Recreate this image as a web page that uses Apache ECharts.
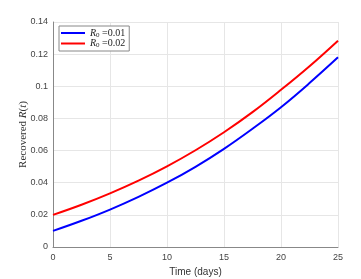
<!DOCTYPE html>
<html><head><meta charset="utf-8">
<script src="https://cdn.jsdelivr.net/npm/echarts@6/dist/echarts.min.js"></script>
<style>html,body{margin:0;padding:0;background:#fff}#c{width:361px;height:279px}</style>
</head><body><div id="c"></div>
<script>
const days = [0, 2.5, 5, 7.5, 10, 12.5, 15, 17.5, 20, 22.5, 25];
const recovered001 = [0.010, 0.0163, 0.0233, 0.0312, 0.0400, 0.0499, 0.0611, 0.0736, 0.0870, 0.1020, 0.1180];
const recovered002 = [0.020, 0.0263, 0.0334, 0.0413, 0.0502, 0.0602, 0.0714, 0.0839, 0.0978, 0.1125, 0.1284];
const seriesNames = ['R0=0.01', 'R0=0.02'];
const legendLabels = {'R0=0.01': '0.01', 'R0=0.02': '0.02'};
const xTicks = [0, 5, 10, 15, 20, 25];
const yTicks = [0, 0.02, 0.04, 0.06, 0.08, 0.1, 0.12, 0.14];

const chart = echarts.init(document.getElementById('c'), null, {renderer: 'canvas'});
const serif = '"Liberation Serif","DejaVu Serif",serif';
const sans = '"Liberation Sans",Arial,sans-serif';
chart.setOption({
  animation: false,
  grid: {left: 53, right: 23, top: 22, bottom: 32, outerBoundsMode: 'none', containLabel: false},
  legend: {
    left: 59, top: 26, orient: 'vertical',
    itemWidth: 24, itemHeight: 2, itemGap: 0,
    padding: [2, 4, 2, 2],
    borderColor: '#888', borderWidth: 1, backgroundColor: '#fff',
    icon: 'rect',
    formatter: n => '{i|R}{s|0}{t| =' + legendLabels[n] + '}',
    textStyle: {
      rich: {
        i: {fontFamily: serif, fontStyle: 'italic', fontSize: 10, color: '#222', lineHeight: 10},
        s: {fontFamily: serif, fontSize: 7, color: '#222', verticalAlign: 'bottom', padding: [4, 0, 0, 0]},
        t: {fontFamily: serif, fontSize: 10, color: '#222'}
      }
    },
    data: seriesNames
  },
  xAxis: {
    type: 'value', min: 0, max: 25, interval: 5,
    name: 'Time (days)', nameLocation: 'middle', nameGap: 20, nameMoveOverlap: false,
    nameTextStyle: {fontFamily: sans, fontSize: 10, color: '#333'},
    axisLine: {show: true, onZero: false, lineStyle: {color: '#888', width: 1}},
    axisTick: {show: false},
    axisLabel: {fontFamily: sans, fontSize: 9, color: '#444', margin: 6},
    splitLine: {show: true, lineStyle: {color: '#e6e6e6', width: 1}}
  },
  yAxis: {
    type: 'value', min: 0, max: 0.14, interval: 0.02,
    name: '{a|Recovered }{b|R}{a|(}{b|t}{a|)}', nameLocation: 'middle', nameGap: 24, nameMoveOverlap: false,
    nameTextStyle: {rich: {
      a: {fontFamily: serif, fontSize: 11, color: '#333'},
      b: {fontFamily: serif, fontStyle: 'italic', fontSize: 11, color: '#333'}
    }},
    axisLine: {show: true, lineStyle: {color: '#888', width: 1}},
    axisTick: {show: false},
    axisLabel: {fontFamily: sans, fontSize: 9, color: '#444', margin: 5,
      formatter: v => String(+v.toFixed(2))},
    splitLine: {show: true, lineStyle: {color: '#e6e6e6', width: 1}}
  },
  series: [
    {name: seriesNames[0], type: 'line', smooth: 0.4, showSymbol: false,
     lineStyle: {color: '#0000ff', width: 2}, itemStyle: {color: '#0000ff'},
     data: days.map((d, i) => [d, recovered001[i]])},
    {name: seriesNames[1], type: 'line', smooth: 0.4, showSymbol: false,
     lineStyle: {color: '#ff0000', width: 2}, itemStyle: {color: '#ff0000'},
     data: days.map((d, i) => [d, recovered002[i]])}
  ]
});
</script></body></html>
